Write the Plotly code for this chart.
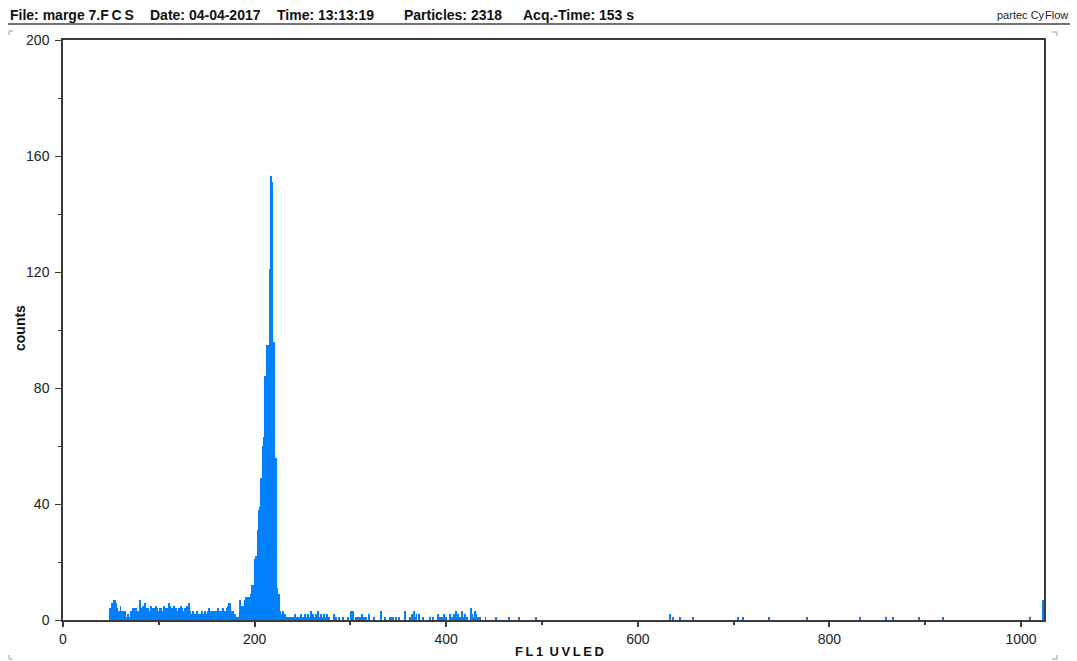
import plotly.graph_objects as go

# ---------------- data ----------------
dense_start = 49
dense_counts = [
    4, 4, 6, 5, 7, 7, 6, 4, 3, 3,          # 49-58
    2, 5, 3, 2, 3, 2, 3, 1, 1, 2,          # 59-68
    1, 0, 3, 1, 4, 3, 4, 4, 3, 2,          # 69-78
    3, 7, 3, 4, 2, 5, 3, 6, 4, 3,          # 79-88
    4, 3, 2, 5, 3, 4, 4, 3, 5, 4,          # 89-98
    2, 3, 4, 4, 3, 3, 5, 2, 4, 3,          # 99-108
    4, 3, 6, 5, 3, 4, 2, 5, 3, 4,          # 109-118
    2, 3, 4, 3, 5, 4, 3, 2, 4, 3,          # 119-128
    5, 3, 2, 6, 3, 2, 2, 3, 2, 1,          # 129-138
    2, 3, 2, 1, 2, 2, 3, 1, 2, 3,          # 139-148
    2, 2, 3, 4, 2, 3, 2, 3, 1, 3,          # 149-158
    2, 3, 2, 4, 2, 3, 2, 3, 4, 2,          # 159-168
    3, 2, 4, 5, 6, 6, 3, 2, 3, 1,          # 169-178
    1, 2, 1, 0, 1, 1,                      # 179-184
    7, 5, 5, 5, 4, 7, 8, 8, 4, 8,          # 185-194
    3, 9, 12, 12, 12, 21, 22, 22, 29, 31,  # 195-204
    38, 39, 49, 49, 60, 63, 84, 76, 95, 95,  # 205-214
    95, 121, 153, 151, 96, 96, 56, 56, 11, 9,  # 215-224
    9, 1, 3, 2, 0, 3,                      # 225-230
]

sparse_channels = [
    231, 232, 233, 235, 236, 238, 240, 242, 243, 245, 246, 248, 249, 251, 253,
    254, 256, 258, 259, 261, 262, 264, 266, 267, 269, 270, 272, 274, 276, 278,
    283, 285, 288, 292, 297, 301, 302, 303, 306, 308, 310, 312, 314, 316, 319,
    325, 332, 336, 341, 343, 345, 348, 351, 357, 362, 364, 366, 368, 369, 372,
    376, 383, 386, 391, 394, 396, 398, 400, 404, 406, 408, 410, 412, 414, 416,
    418, 420, 422, 426, 427, 429, 430, 431, 433, 435, 441, 452, 466, 476, 494,
    634, 637, 644, 658, 705, 710, 737, 777, 832, 859, 866, 894, 919, 1009, 1023,
]
sparse_counts = [
    2, 2, 1, 1, 1, 1, 1, 2, 1, 1, 1, 2, 1, 1, 2,
    1, 2, 1, 3, 2, 1, 2, 3, 1, 2, 1, 2, 1, 2, 1,
    2, 1, 1, 1, 1, 3, 2, 3, 1, 1, 1, 2, 1, 1, 2,
    1, 3, 1, 1, 1, 1, 1, 1, 3, 1, 2, 3, 1, 2, 2,
    1, 1, 1, 2, 1, 1, 2, 1, 2, 1, 2, 3, 2, 1, 3,
    1, 2, 1, 4, 2, 1, 3, 2, 1, 1, 1, 1, 1, 1, 1,
    2, 1, 1, 1, 1, 1, 1, 1, 1, 1, 1, 1, 1, 1, 7,
]

x_ticks = [0, 200, 400, 600, 800, 1000]
x_minor = [100, 300, 500, 700, 900]
y_ticks = [0, 40, 80, 120, 160, 200]
y_minor = [20, 60, 100, 140, 180]

header_parts = [
    "File: marge 7.F\u2009C\u2009S",
    "Date: 04-04-2017",
    "Time: 13:13:19",
    "Particles: 2318",
    "Acq.-Time: 153 s",
]
header_x = [8, 148, 275, 402, 521]
brand_text = "partec Cy\u200aFlow"
x_title = "F\u2009L\u20091 \u2009U\u2009V\u2009L\u2009E\u2009D"
y_title = "counts"

# ---------------- figure ----------------
channels = list(range(dense_start, dense_start + len(dense_counts))) + sparse_channels
counts = dense_counts + sparse_counts

W, H = 1077, 661
L, R, T, B = 63, 33, 40, 41
PW, PH = W - L - R, H - T - B


def px(xp):
    return (xp - L) / PW


def py(yp):
    return (H - B - yp) / PH


fig = go.Figure()
fig.add_trace(go.Bar(
    x=channels, y=counts, width=1.0,
    marker=dict(color="rgb(0,128,255)", line=dict(width=0)),
    hoverinfo="x+y",
))

axis_color = "#3a3a3a"
tick_font = dict(family="Liberation Sans, Arial, sans-serif", size=14, color="#222")

fig.update_layout(
    width=W, height=H,
    margin=dict(l=L, r=R, t=T, b=B, pad=0),
    paper_bgcolor="white", plot_bgcolor="white",
    bargap=0, showlegend=False,
    xaxis=dict(
        range=[0, 1024], tickvals=x_ticks, ticktext=[str(v) for v in x_ticks],
        ticks="outside", ticklen=5, tickwidth=1.5, tickcolor=axis_color,
        minor=dict(tickvals=x_minor, ticks="outside", ticklen=3, tickwidth=1.5,
                   tickcolor=axis_color, showgrid=False),
        showline=True, linecolor=axis_color, linewidth=2, mirror=True,
        showgrid=False, zeroline=False, tickfont=tick_font,
    ),
    yaxis=dict(
        range=[0, 200], tickvals=y_ticks, ticktext=[str(v) for v in y_ticks],
        ticks="outside", ticklen=6, tickwidth=1.2, tickcolor=axis_color,
        minor=dict(tickvals=y_minor, ticks="outside", ticklen=3, tickwidth=1.2,
                   tickcolor=axis_color, showgrid=False),
        showline=True, linecolor=axis_color, linewidth=1.5, mirror=True,
        showgrid=False, zeroline=False, tickfont=tick_font, ticklabelstandoff=3,
    ),
)

bold = dict(family="Liberation Sans, Arial, sans-serif", color="#111")

for txt, hx in zip(header_parts, header_x):
    fig.add_annotation(text=f"<b>{txt}</b>", xref="paper", yref="paper",
                       x=px(hx), y=py(15), xanchor="left", yanchor="middle",
                       showarrow=False, font=dict(bold, size=14))
fig.add_annotation(text=brand_text, xref="paper", yref="paper",
                   x=px(1070), y=py(15), xanchor="right", yanchor="middle",
                   showarrow=False, font=dict(family="Liberation Sans, Arial, sans-serif",
                                              size=11, color="#222"))
fig.add_annotation(text=f"<b>{x_title}</b>", xref="paper", yref="paper",
                   x=px(559), y=py(651), xanchor="center", yanchor="middle",
                   showarrow=False, font=dict(bold, size=13))
fig.add_annotation(text=f"<b>{y_title}</b>", xref="paper", yref="paper",
                   x=px(20), y=py(328), xanchor="center", yanchor="middle",
                   textangle=-90, showarrow=False, font=dict(bold, size=14))

# header rule
fig.add_shape(type="line", xref="paper", yref="paper",
              x0=px(8), x1=px(1070), y0=py(24), y1=py(24),
              line=dict(color="#444", width=1.5))

# corner marks
corner = dict(color="#999", width=1)
marks = [
    ((9, 31), (13, 31)), ((9, 31), (9, 35)),
    ((1052, 32), (1057, 32)), ((1057, 32), (1057, 36)),
    ((1057, 655), (1057, 659)), ((1052, 659), (1057, 659)),
    ((9, 655), (9, 659)), ((9, 659), (13, 659)),
]
for (a, b) in marks:
    fig.add_shape(type="line", xref="paper", yref="paper",
                  x0=px(a[0]), y0=py(a[1]), x1=px(b[0]), y1=py(b[1]), line=corner)

fig.write_html("out.html")
